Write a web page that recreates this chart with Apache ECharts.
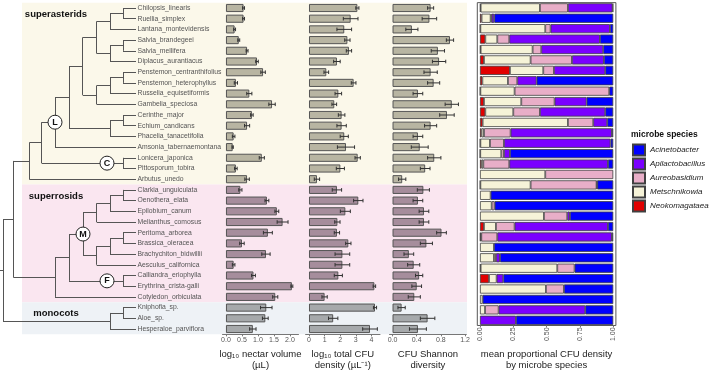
<!DOCTYPE html>
<html>
<head>
<meta charset="utf-8">
<script src="https://cdn.jsdelivr.net/npm/echarts@6/dist/echarts.min.js"></script>
<style>
  html, body { margin: 0; padding: 0; background: #fff; }
  #chart { width: 709px; height: 376px; }
</style>
</head>
<body>
<div id="chart"></div>
<script>
// ---- data ----
const species = [
  "Chilopsis_linearis", "Ruellia_simplex", "Lantana_montevidensis", "Salvia_brandegeei",
  "Salvia_mellifera", "Diplacus_aurantiacus", "Penstemon_centranthifolius", "Penstemon_heterophyllus",
  "Russelia_equisetiformis", "Gambelia_speciosa", "Cerinthe_major", "Echium_candicans",
  "Phacelia_tanacetifolia", "Amsonia_tabernaemontana", "Lonicera_japonica", "Pittosporum_tobira",
  "Arbutus_unedo", "Clarkia_unguiculata", "Oenothera_elata", "Epilobium_canum",
  "Melianthus_comosus", "Peritoma_arborea", "Brassica_oleracea", "Brachychiton_bidwillii",
  "Aesculus_californica", "Calliandra_eriophylla", "Erythrina_crista-galli", "Cotyledon_orbiculata",
  "Kniphofia_sp.", "Aloe_sp.", "Hesperaloe_parviflora"
];

const groupNames = ["superasterids", "superrosids", "monocots"];
const groupStart = [0, 17, 28];
const groupEnd = [16, 27, 30];

const nectarVol = [0.55, 0.55, 0.27, 0.40, 0.66, 0.97, 1.16, 0.31, 0.73, 1.44, 0.81, 0.66, 0.24, 0.21, 1.12, 0.31, 0.66,
  0.45, 1.28, 1.59, 1.77, 1.31, 0.50, 1.25, 0.24, 0.86, 2.06, 1.54, 1.26, 1.23, 0.84];
const nectarErr = [0.03, 0.03, 0.03, 0.03, 0.03, 0.04, 0.07, 0.05, 0.08, 0.10, 0.04, 0.08, 0.04, 0.02, 0.08, 0.04, 0.07,
  0.05, 0.06, 0.06, 0.17, 0.14, 0.07, 0.13, 0.04, 0.06, 0.03, 0.08, 0.18, 0.09, 0.10];

const cfuDensity = [3.10, 2.67, 2.26, 2.46, 2.56, 1.79, 1.11, 2.86, 1.88, 1.62, 2.09, 2.09, 2.26, 2.37, 3.12, 2.01, 0.51,
  1.79, 3.16, 2.33, 1.82, 1.79, 2.52, 2.14, 2.14, 1.88, 4.19, 1.00, 4.23, 1.55, 3.91];
const cfuErr = [0.10, 0.47, 0.47, 0.17, 0.17, 0.21, 0.15, 0.15, 0.21, 0.15, 0.21, 0.30, 0.26, 0.55, 0.17, 0.26, 0.17,
  0.30, 0.30, 0.32, 0.17, 0.17, 0.17, 0.47, 0.47, 0.26, 0.08, 0.17, 0.10, 0.30, 0.47];

const shannon = [0.63, 0.61, 0.32, 0.95, 0.75, 0.77, 0.63, 0.68, 0.42, 0.98, 0.90, 0.63, 0.42, 0.45, 0.69, 0.54, 0.16,
  0.51, 0.42, 0.52, 0.52, 0.81, 0.56, 0.27, 0.35, 0.44, 0.40, 0.36, 0.15, 0.58, 0.42];
const shannonErr = [0.05, 0.12, 0.10, 0.06, 0.11, 0.11, 0.11, 0.10, 0.08, 0.11, 0.12, 0.10, 0.08, 0.14, 0.11, 0.08, 0.06,
  0.10, 0.08, 0.08, 0.08, 0.08, 0.10, 0.08, 0.10, 0.06, 0.08, 0.10, 0.06, 0.12, 0.14];

// stacked proportions, left to right
const microbes = ["Neokomagataea", "Metschnikowia", "Aureobasidium", "Apilactobacillus", "Acinetobacter"];
const propNeo = [0.005, 0.012, 0.003, 0.04, 0.005, 0.03, 0.225, 0.018, 0.003, 0.03, 0.04, 0.02, 0.012, 0.003, 0.002, 0.012, 0,
  0.003, 0, 0, 0, 0.03, 0.005, 0, 0, 0.005, 0.068, 0, 0, 0, 0];
const propMet = [0.445, 0.068, 0.487, 0.09, 0.39, 0.35, 0.25, 0.192, 0.257, 0.28, 0.21, 0.64, 0.018, 0.072, 0.158, 0.013, 0.49,
  0.377, 0.08, 0.088, 0.48, 0.09, 0.005, 0.105, 0.105, 0.575, 0.057, 0.495, 0.02, 0.038, 0];
const propAur = [0.21, 0.008, 0.04, 0.09, 0.065, 0.31, 0.08, 0.07, 0.71, 0.25, 0.20, 0.19, 0.20, 0.105, 0.02, 0.195, 0.51,
  0.495, 0, 0.022, 0.175, 0.14, 0.12, 0, 0.015, 0.13, 0, 0.135, 0, 0.102, 0];
const propApi = [0.335, 0.019, 0.445, 0.68, 0.465, 0.24, 0.385, 0.145, 0, 0.24, 0.49, 0.105, 0.76, 0.80, 0.045, 0.74, 0,
  0.005, 0, 0, 0.02, 0.70, 0.86, 0, 0.03, 0, 0.05, 0, 0, 0.65, 0.27];
const propAci = [0.005, 0.893, 0.025, 0.10, 0.075, 0.07, 0.06, 0.575, 0.03, 0.20, 0.06, 0.045, 0.01, 0.02, 0.775, 0.04, 0,
  0.12, 0.92, 0.89, 0.325, 0.04, 0.01, 0.895, 0.85, 0.29, 0.825, 0.37, 0.98, 0.21, 0.73];
const propSeries = [propNeo, propMet, propAur, propApi, propAci];
const legendOrder = ["Acinetobacter", "Apilactobacillus", "Aureobasidium", "Metschnikowia", "Neokomagataea"];

const nectarTicks = [0, 0.5, 1, 1.5, 2];
const cfuTicks = [0, 1, 2, 3, 4];
const shannonTicks = [0, 0.4, 0.8, 1.2];
const propTicks = [0, 0.25, 0.5, 0.75, 1];

// phylogeny: node depth, two children (leaf = row index), optional clade tag
function N(x, a, b, tag, tagX) { return { x, c: [a, b], tag, tagX }; }
const TIP = 136;
const tree = N(3,
  N(13.3,
    N(29.3,
      N(41.7,
        N(55,
          N(69,
            N(82.7,
              N(96.7, N(110, N(123, 0, 1), 2), N(110, N(123, 3, 4), 5)),
              N(96.7, N(110, N(123, 6, 7), 8), 9)),
            N(110, N(123, 10, 11), 12)),
          13, "L"),
        N(123, 14, 15, "C", 107)),
      16),
    N(55,
      N(69,
        N(83,
          N(96.7, N(110, N(123, 17, 18), 19), 20),
          N(96.7, N(110, N(123, 21, 22), 23), 24), "M"),
        N(123, 25, 26, "F", 107)),
      27)),
  N(110, N(123, 28, 29), 30));

// ---- styles ----
const FONT = '"Liberation Sans", Arial, sans-serif';
const BG = ["#fbf8ea", "#fae6f0", "#eef2f6"];
const BAR = ["#b8b5a2", "#a68d9c", "#a6a9ab"];
const MICROBE_COLOR = {
  Neokomagataea: "#e10000", Metschnikowia: "#f6f3d8", Aureobasidium: "#e8aec8",
  Apilactobacillus: "#7a00ff", Acinetobacter: "#0000ff"
};
const TOP = 2.65, BOTTOM = 41.65;
const ROWS = species.length;

function groupOf(i) {
  return groupNames.findIndex((_, g) => i >= groupStart[g] && i <= groupEnd[g]);
}

// tree layout -> line segments in (depth, row) space
const segs = [], tags = [];
function layout(n) {
  if (typeof n === "number") return { x: TIP, y: n };
  const kids = n.c.map(layout);
  const y = (kids[0].y + kids[kids.length - 1].y) / 2;
  segs.push({ coords: [[n.x, kids[0].y], [n.x, kids[kids.length - 1].y]] });
  kids.forEach((k) => segs.push({ coords: [[n.x, k.y], [k.x, k.y]] }));
  if (n.tag) tags.push([n.tagX ?? n.x, y, n.tag]);
  return { x: n.x, y };
}
const rootPos = layout(tree);
segs.push({ coords: [[0, rootPos.y], [tree.x, rootPos.y]] });

const rowAxis = (grid, extra) => Object.assign({
  type: "category", gridIndex: grid, data: species, inverse: true, show: false
}, extra || {});
const rowValueAxis = (grid) => ({ type: "value", gridIndex: grid, min: -0.5, max: ROWS - 0.5, inverse: true, show: false });

function valueAxis(grid, min, max, ticks, digits, name, nameGap) {
  return {
    type: "value", gridIndex: grid, min, max,
    splitLine: { show: false },
    axisLine: { show: true, lineStyle: { color: "#777", width: 1 } },
    axisTick: { show: true, length: 2, customValues: ticks, lineStyle: { color: "#777" } },
    axisLabel: {
      customValues: ticks, margin: 2.5, fontSize: 7, color: "#555", fontFamily: FONT,
      formatter: (v) => v.toFixed(digits)
    },
    name, nameLocation: "middle", nameGap,
    nameTextStyle: { fontSize: 9.5, color: "#222", fontFamily: FONT, lineHeight: 11 }
  };
}

function barSeries(grid, vals) {
  return {
    type: "bar", xAxisIndex: grid, yAxisIndex: grid, barWidth: "76%", z: 3,
    data: vals.map((v, i) => ({
      value: v,
      itemStyle: { color: BAR[groupOf(i)], borderColor: "#555", borderWidth: 1 }
    }))
  };
}

function errSeries(grid, vals, errs) {
  return {
    type: "custom", xAxisIndex: grid, yAxisIndex: grid, z: 4,
    encode: { x: 0, y: 2 },
    data: vals.map((v, i) => [v, errs[i], i]),
    renderItem(params, api) {
      const v = api.value(0), e = api.value(1), r = api.value(2);
      const a = api.coord([v - e, r]), b = api.coord([v + e, r]);
      const st = { stroke: "#333", lineWidth: 1 };
      return {
        type: "group", children: [
          { type: "line", shape: { x1: a[0], y1: a[1], x2: b[0], y2: b[1] }, style: st },
          { type: "line", shape: { x1: a[0], y1: a[1] - 1.8, x2: a[0], y2: a[1] + 1.8 }, style: st },
          { type: "line", shape: { x1: b[0], y1: b[1] - 1.8, x2: b[0], y2: b[1] + 1.8 }, style: st }
        ]
      };
    }
  };
}

const propAxis = valueAxis(5, -0.02, 1.02, propTicks, 2, "mean proportional CFU density\nby microbe species", 20);
propAxis.axisLine = { show: false };
propAxis.axisLabel.rotate = 90;
propAxis.axisLabel.margin = 2;

const chart = echarts.init(document.getElementById("chart"), null, { renderer: "canvas" });

chart.setOption({
  animation: false,
  backgroundColor: "#fff",
  textStyle: { fontFamily: FONT },
  title: {
    text: "microbe species", left: 631, top: 130, padding: 0,
    textStyle: { fontSize: 8.5, fontWeight: "bold", color: "#111", fontFamily: FONT }
  },
  legend: {
    data: legendOrder, orient: "vertical", left: 632, top: 143.5, padding: 0,
    itemWidth: 12, itemHeight: 11, itemGap: 1, icon: "rect", selectedMode: false,
    textStyle: { fontSize: 8, fontStyle: "italic", color: "#222", fontFamily: FONT, lineHeight: 11 }
  },
  grid: [
    { left: 22, width: 445, top: TOP, bottom: BOTTOM },              // group bands
    { left: 0, width: TIP, top: TOP, bottom: BOTTOM },               // tree
    { left: 222.5, width: 76, top: TOP, bottom: BOTTOM },            // nectar volume
    { left: 305.6, width: 74.4, top: TOP, bottom: BOTTOM },          // CFU density
    { left: 389.5, width: 76.8, top: TOP, bottom: BOTTOM },          // Shannon
    { left: 477.3, width: 138.6, top: TOP, bottom: BOTTOM, show: true,
      backgroundColor: "#fff", borderColor: "#555", borderWidth: 1 } // proportions
  ],
  xAxis: [
    { type: "value", gridIndex: 0, min: 0, max: 1, show: false },
    { type: "value", gridIndex: 1, min: 0, max: TIP, show: false },
    valueAxis(2, -0.108, 2.267, nectarTicks, 1, "log\u2081\u2080 nectar volume\n(\u00b5L)", 10.5),
    valueAxis(3, -0.217, 4.55, cfuTicks, 0, "log\u2081\u2080 total CFU\ndensity (\u00b5L\u207b\u00b9)", 10.5),
    valueAxis(4, -0.05, 1.22, shannonTicks, 1, "CFU Shannon\ndiversity", 10.5),
    propAxis
  ],
  yAxis: [
    rowValueAxis(0),
    rowValueAxis(1),
    rowAxis(2), rowAxis(3), rowAxis(4), rowAxis(5),
    rowAxis(1, {
      show: true, position: "right",
      axisLine: { show: false }, axisTick: { show: false },
      axisLabel: { margin: 1.5, fontSize: 6.8, color: "#555", fontFamily: FONT, interval: 0 }
    })
  ],
  series: [
    {
      // coloured clade bands with their names
      type: "custom", xAxisIndex: 0, yAxisIndex: 0, z: 0, silent: true,
      encode: { x: 2, y: 0 },
      data: groupNames.map((n, g) => [groupStart[g], groupEnd[g], g]),
      renderItem(params, api) {
        const g = api.value(2);
        const p0 = api.coord([0, api.value(0) - 0.5]);
        const p1 = api.coord([1, api.value(1) + 0.5]);
        return {
          type: "group", children: [
            { type: "rect", shape: { x: p0[0], y: p0[1], width: p1[0] - p0[0], height: p1[1] - p0[1] },
              style: { fill: BG[g] } },
            { type: "text", x: p0[0] + 34, y: p0[1] + 11.5,
              style: { text: groupNames[g], fill: "#111", font: "bold 9.5px " + FONT,
                       align: "center", verticalAlign: "middle" } }
          ]
        };
      }
    },
    {
      type: "lines", coordinateSystem: "cartesian2d", xAxisIndex: 1, yAxisIndex: 1, z: 2, silent: true,
      lineStyle: { color: "#555", width: 1, opacity: 1 },
      data: segs
    },
    {
      type: "scatter", xAxisIndex: 1, yAxisIndex: 1, z: 5, symbolSize: 14,
      itemStyle: { color: "#fff", borderColor: "#222", borderWidth: 1, opacity: 1 },
      label: { show: true, position: "inside", formatter: (p) => p.value[2],
               fontSize: 9, fontWeight: "bold", color: "#111", fontFamily: FONT },
      data: tags
    },
    barSeries(2, nectarVol), errSeries(2, nectarVol, nectarErr),
    barSeries(3, cfuDensity), errSeries(3, cfuDensity, cfuErr),
    barSeries(4, shannon), errSeries(4, shannon, shannonErr),
    ...microbes.map((m, k) => ({
      name: m, type: "bar", stack: "prop", xAxisIndex: 5, yAxisIndex: 5, barWidth: "88%", z: 3,
      itemStyle: { color: MICROBE_COLOR[m], borderColor: "#404040", borderWidth: 0.8 },
      data: propSeries[k].map((v) => (v > 0 ? v : "-"))
    }))
  ]
});
</script>
</body>
</html>
